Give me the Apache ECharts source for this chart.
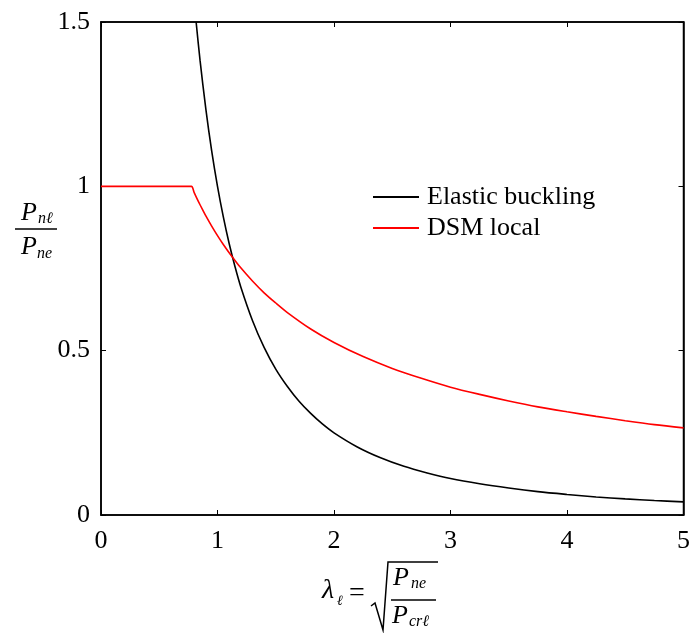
<!DOCTYPE html>
<html>
<head>
<meta charset="utf-8">
<script src="https://cdn.jsdelivr.net/npm/echarts@6/dist/echarts.min.js"></script>
<style>html,body{margin:0;padding:0;background:#fff;}#c{width:693px;height:633px;}</style>
</head>
<body>
<div id="c"></div>
<script>
// Data
var elasticLambda = [0.8165,0.85,0.9,0.95,1.0,1.05,1.1,1.15,1.2,1.3,1.4,1.5,1.6,1.7,1.8,1.9,2.0,2.2,2.4,2.6,2.8,3.0,3.25,3.5,3.75,4.0,4.25,4.5,4.75,5.0];
var elasticValues = [1.5,1.384,1.235,1.108,1.0,0.907,0.826,0.756,0.694,0.592,0.510,0.444,0.391,0.346,0.309,0.277,0.25,0.207,0.174,0.148,0.128,0.111,0.095,0.082,0.071,0.0625,0.055,0.049,0.044,0.04];
var dsmLambda = [0,0.7,0.776,0.8,0.825,0.85,0.875,0.9,0.95,1.0,1.05,1.1,1.2,1.3,1.4,1.5,1.6,1.8,2.0,2.25,2.5,2.75,3.0,3.25,3.5,3.75,4.0,4.25,4.5,4.75,5.0];
var dsmValues = [1,1,1,0.981,0.962,0.944,0.927,0.910,0.879,0.85,0.823,0.798,0.752,0.712,0.676,0.645,0.616,0.566,0.525,0.482,0.446,0.416,0.389,0.367,0.347,0.329,0.314,0.300,0.287,0.275,0.265];
var xTicks = {min:0, max:5, interval:1};
var yTicks = {min:0, max:1.5, interval:0.5};
var legendNames = ['Elastic buckling','DSM local'];

function pairs(xs, ys){ return xs.map(function(x,i){return [x, ys[i]];}); }

var serif = "'Liberation Serif', 'Times New Roman', serif";
var chart = echarts.init(document.getElementById('c'), null, {renderer:'canvas'});
function axisBase(){
  return {
    type:'value',
    axisLine:{show:true, onZero:false, lineStyle:{color:'#000', width:1.5}},
    axisTick:{show:true, inside:true, length:5, lineStyle:{color:'#000', width:1}},
    splitLine:{show:false}
  };
}
var xb = axisBase(), xt = axisBase(), yl = axisBase(), yr = axisBase();
Object.assign(xb, {position:'bottom', min:xTicks.min, max:xTicks.max, interval:xTicks.interval,
  axisLabel:{margin:13, fontFamily:serif, fontSize:26, color:'#000'}});
Object.assign(xt, {position:'top', min:xTicks.min, max:xTicks.max, interval:xTicks.interval, axisLabel:{show:false}});
Object.assign(yl, {position:'left', min:yTicks.min, max:yTicks.max, interval:yTicks.interval,
  axisLabel:{margin:11, fontFamily:serif, fontSize:26, color:'#000'}});
Object.assign(yr, {position:'right', min:yTicks.min, max:yTicks.max, interval:yTicks.interval, axisLabel:{show:false}});

var option = {
  backgroundColor:'#fff',
  animation:false,
  textStyle:{fontFamily:serif},
  grid:{left:101, right:6, top:22, bottom:118, containLabel:false, show:true, borderColor:'#000', borderWidth:1.5, backgroundColor:'transparent'},
  legend:{
    data:legendNames.map(function(n){return {name:n, icon:'rect'};}),
    orient:'vertical', left:373, top:184, itemWidth:46, itemHeight:2,
    itemGap:5, padding:0,
    textStyle:{fontFamily:serif, fontSize:26, color:'#000', lineHeight:26, padding:[0,0,0,3]}
  },
  xAxis:[xb, xt],
  yAxis:[yl, yr],
  series:[
    {name:legendNames[0], type:'line', data:pairs(elasticLambda, elasticValues), symbol:'none', showSymbol:false,
     smooth:0.3,
     lineStyle:{color:'#000', width:1.6}, itemStyle:{color:'#000'}, clip:true},
    {name:legendNames[1], type:'line', data:pairs(dsmLambda, dsmValues), symbol:'none', showSymbol:false,
     smooth:0.3,
     lineStyle:{color:'#ff0000', width:1.6}, itemStyle:{color:'#ff0000'}, clip:true}
  ],
  graphic:[
    // y-axis title: P_nl / P_ne
    {type:'text', left:21, top:200, style:{text:'P', font:'italic 26px '+serif, fill:'#000'}},
    {type:'text', left:38, top:211, style:{text:'nℓ', font:'italic 16px '+serif, fill:'#000'}},
    {type:'line', shape:{x1:15, y1:229, x2:57, y2:229}, style:{stroke:'#000', lineWidth:1.5}},
    {type:'text', left:21, top:234, style:{text:'P', font:'italic 26px '+serif, fill:'#000'}},
    {type:'text', left:37, top:246, style:{text:'ne', font:'italic 16px '+serif, fill:'#000'}},
    // x-axis title: lambda_l = sqrt(P_ne / P_crl)
    {type:'text', left:322, top:577, style:{text:'λ', font:'italic 28px '+serif, fill:'#000'}},
    {type:'text', left:337, top:594, style:{text:'ℓ', font:'italic 14px '+serif, fill:'#000'}},
    {type:'text', left:349, top:580, style:{text:'=', font:'28px '+serif, fill:'#000'}},
    {type:'polyline', shape:{points:[[371,606],[375,603],[383,630],[388,562],[438,562]]}, style:{stroke:'#000', lineWidth:1.5, fill:null}},
    {type:'line', shape:{x1:391, y1:600, x2:436, y2:600}, style:{stroke:'#000', lineWidth:1.5}},
    {type:'text', left:393, top:565, style:{text:'P', font:'italic 26px '+serif, fill:'#000'}},
    {type:'text', left:411, top:576, style:{text:'ne', font:'italic 16px '+serif, fill:'#000'}},
    {type:'text', left:392, top:603, style:{text:'P', font:'italic 26px '+serif, fill:'#000'}},
    {type:'text', left:409, top:614, style:{text:'crℓ', font:'italic 16px '+serif, fill:'#000'}}
  ]
};
chart.setOption(option);
</script>
</body>
</html>
